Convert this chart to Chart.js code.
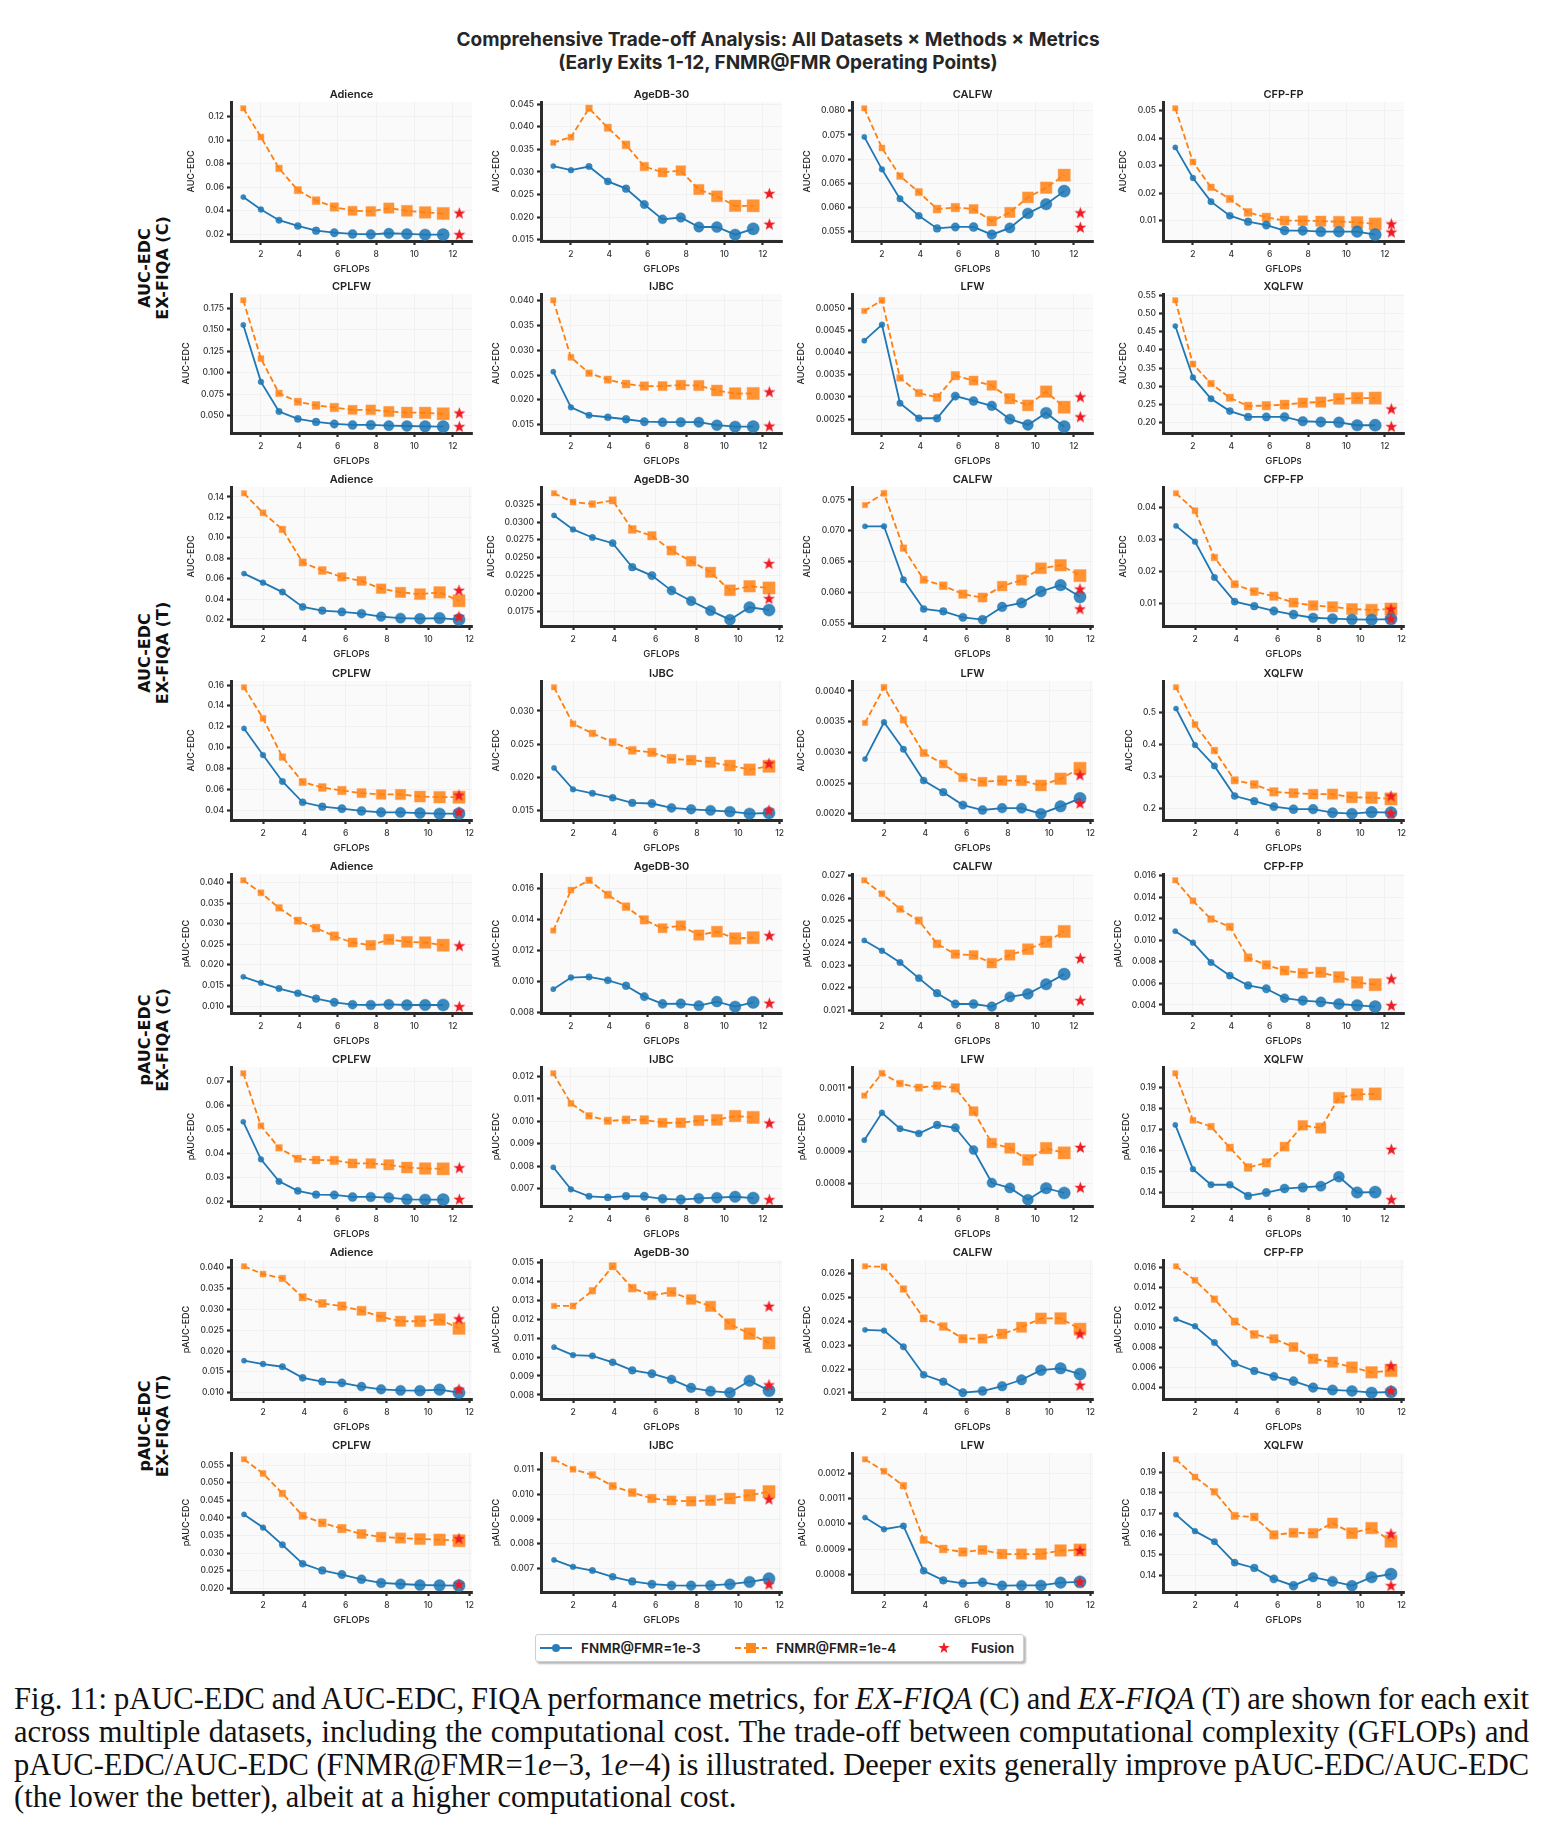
<!DOCTYPE html>
<html lang="en">
<head>
  <meta charset="UTF-8">
  <title>Comprehensive Trade-off Analysis</title>
  <script src="https://cdn.jsdelivr.net/npm/chart.js@4.4.0/dist/chart.umd.min.js"></script>
  <style>
    body {
      margin: 0;
      background: #fff;
    }

    #page {
      position: relative;
      width: 1543px;
      height: 1841px;
      overflow: hidden;
      font-family: 'Inter', sans-serif;
      color: #222;
    }

    .fig-title {
      position: absolute;
      left: 0;
      width: 1556px;
      top: 28px;
      text-align: center;
      font-weight: 700;
      font-size: 19px;
      line-height: 23px;
      color: #262626;
    }

    .group-label {
      position: absolute;
      font-family: 'DejaVu Sans', sans-serif;
      font-weight: bold;
      font-size: 16px;
      line-height: 18px;
      text-align: center;
      white-space: nowrap;
      transform: translate(-50%, -50%) rotate(-90deg);
      color: #111;
    }

    canvas.panel {
      position: absolute;
    }

    /* legend box */
    .legend {
      position: absolute;
      left: 535px;
      top: 1634px;
      width: 487px;
      height: 26px;
      border: 1px solid #cfcfcf;
      border-radius: 3px;
      background: #fff;
      box-shadow: 2px 2px 2px rgba(0, 0, 0, 0.28);
      font-family: 'Inter', sans-serif;
      font-weight: 600;
      font-size: 13.5px;
      color: #222;
    }

    .legend svg,
    .legend span {
      position: absolute;
    }

    .legend span {
      top: 4px;
      line-height: 18px;
    }

    .caption {
      position: absolute;
      left: 14px;
      width: 1515px;
      font-family: 'Liberation Serif', 'Times New Roman', serif;
      font-size: 30.5px;
      line-height: 33px;
      color: #111;
      white-space: nowrap;
    }

    .caption.j {
      text-align: justify;
      text-align-last: justify;
      word-spacing: -2.5px;
    }
  </style>
</head>
<body>
<div id="page">
  <div class="fig-title">Comprehensive Trade-off Analysis: All Datasets × Methods × Metrics<br>(Early Exits 1-12, FNMR@FMR Operating Points)</div>

  <div class="group-label" style="left:154px; top:268px;">AUC-EDC<br>EX-FIQA (C)</div>
  <div class="group-label" style="left:154px; top:653px;">AUC-EDC<br>EX-FIQA (T)</div>
  <div class="group-label" style="left:154px; top:1040px;">pAUC-EDC<br>EX-FIQA (C)</div>
  <div class="group-label" style="left:154px; top:1426px;">pAUC-EDC<br>EX-FIQA (T)</div>

  <div class="legend">
    <svg style="left:4px; top:7px" width="32" height="12">
      <line x1="0" y1="6" x2="32" y2="6" stroke="#1f77b4" stroke-width="2"/>
      <circle cx="16" cy="6" r="4" fill="#2a7db8"/>
    </svg>
    <span style="left:45px">FNMR@FMR=1e-3</span>
    <svg style="left:199px; top:7px" width="32" height="12">
      <line x1="0" y1="6" x2="32" y2="6" stroke="#ff7f0e" stroke-width="2" stroke-dasharray="6 3"/>
      <rect x="11" y="1" width="10" height="10" fill="#ff8a22"/>
    </svg>
    <span style="left:240px">FNMR@FMR=1e-4</span>
    <svg style="left:402px; top:7px" width="12" height="12">
      <polygon points="6,0 7.4,4.1 11.7,4.1 8.2,6.7 9.5,11 6,8.4 2.5,11 3.8,6.7 0.3,4.1 4.6,4.1" fill="#f01c24"/>
    </svg>
    <span style="left:435px">Fusion</span>
  </div>

  <div class="caption j" style="top:1683px;">Fig. 11: pAUC-EDC and AUC-EDC, FIQA performance metrics, for <i>EX-FIQA</i> (C) and <i>EX-FIQA</i> (T) are shown for each exit</div>
  <div class="caption j" style="top:1716px;">across multiple datasets, including the computational cost. The trade-off between computational complexity (GFLOPs) and</div>
  <div class="caption j" style="top:1749px;">pAUC-EDC/AUC-EDC (FNMR@FMR=1<i>e</i>−3, 1<i>e</i>−4) is illustrated. Deeper exits generally improve pAUC-EDC/AUC-EDC</div>
  <div class="caption" style="top:1781px;">(the lower the better), albeit at a higher computational cost.</div>
</div>

<script>
  // exits 1-12, GFLOPs
  const GFLOPS = [1.08, 2.0, 2.94, 3.92, 4.87, 5.82, 6.77, 7.72, 8.66, 9.6, 10.55, 11.49];
  const FUSION_X_C = 12.33;
  const FUSION_X_T = 11.49;

  const ROW_NAMES = [
    ['Adience', 'AgeDB-30', 'CALFW', 'CFP-FP'],
    ['CPLFW', 'IJBC', 'LFW', 'XQLFW']
  ];
  const Y_LABELS = ['AUC-EDC', 'AUC-EDC', 'AUC-EDC', 'AUC-EDC', 'pAUC-EDC', 'pAUC-EDC', 'pAUC-EDC', 'pAUC-EDC'];

  // y tick spacing per panel (rows 1-8, columns 1-4)
  const Y_STEPS = [
    [0.02, 0.005, 0.005, 0.01],
    [0.025, 0.005, 0.0005, 0.05],
    [0.02, 0.0025, 0.005, 0.01],
    [0.02, 0.005, 0.0005, 0.1],
    [0.005, 0.002, 0.001, 0.002],
    [0.01, 0.001, 0.0001, 0.01],
    [0.005, 0.001, 0.001, 0.002],
    [0.005, 0.001, 0.0001, 0.01]
  ];

  // ---- AUC-EDC, EX-FIQA (C) ----
  const aC_Adience_e3 = [0.0517, 0.0411, 0.0320, 0.0271, 0.0231, 0.0214, 0.0203, 0.0200, 0.0209, 0.0203, 0.0197, 0.0197];
  const aC_Adience_e4 = [0.127, 0.1026, 0.076, 0.0575, 0.0486, 0.0432, 0.0400, 0.0395, 0.0423, 0.0400, 0.0386, 0.0377];
  const aC_Adience_fus = [0.0380, 0.0197];
  const aC_AgeDB_e3 = [0.0313, 0.0304, 0.0312, 0.0279, 0.0263, 0.0228, 0.0195, 0.0199, 0.0178, 0.0178, 0.0161, 0.0174];
  const aC_AgeDB_e4 = [0.0365, 0.0377, 0.0441, 0.0398, 0.0360, 0.0312, 0.0299, 0.0303, 0.0261, 0.0246, 0.0225, 0.0225];
  const aC_AgeDB_fus = [0.0252, 0.0184];
  const aC_CALFW_e3 = [0.0746, 0.0679, 0.0618, 0.0583, 0.0557, 0.0560, 0.0560, 0.0544, 0.0558, 0.0588, 0.0607, 0.0634];
  const aC_CALFW_e4 = [0.0805, 0.0723, 0.0665, 0.0632, 0.0597, 0.0600, 0.0597, 0.0572, 0.0590, 0.0621, 0.0641, 0.0667];
  const aC_CALFW_fus = [0.0589, 0.0559];
  const aC_CFPFP_e3 = [0.0366, 0.0255, 0.0169, 0.0118, 0.0096, 0.0084, 0.0064, 0.0064, 0.0060, 0.0060, 0.0060, 0.0049];
  const aC_CFPFP_e4 = [0.0508, 0.0313, 0.0221, 0.0179, 0.0130, 0.0112, 0.0100, 0.0100, 0.0098, 0.0096, 0.0094, 0.0088];
  const aC_CFPFP_fus = [0.0088, 0.0058];
  const aC_CPLFW_e3 = [0.1557, 0.0893, 0.0547, 0.0461, 0.0425, 0.0402, 0.0390, 0.0390, 0.0382, 0.0378, 0.0374, 0.0370];
  const aC_CPLFW_e4 = [0.1844, 0.1164, 0.0759, 0.0661, 0.0618, 0.0594, 0.0567, 0.0567, 0.0547, 0.0535, 0.0531, 0.0520];
  const aC_CPLFW_fus = [0.0528, 0.0370];
  const aC_IJBC_e3 = [0.0257, 0.0185, 0.0169, 0.0165, 0.0161, 0.0156, 0.0155, 0.0155, 0.0155, 0.0149, 0.0146, 0.0146];
  const aC_IJBC_e4 = [0.0401, 0.0286, 0.0254, 0.0241, 0.0232, 0.0228, 0.0228, 0.0230, 0.0229, 0.0219, 0.0213, 0.0213];
  const aC_IJBC_fus = [0.0216, 0.0147];
  const aC_LFW_e3 = [0.00427, 0.00463, 0.00286, 0.00252, 0.00252, 0.00302, 0.00291, 0.00280, 0.00250, 0.00237, 0.00264, 0.00233];
  const aC_LFW_e4 = [0.00494, 0.00518, 0.00343, 0.00309, 0.00299, 0.00348, 0.00337, 0.00326, 0.00296, 0.00281, 0.00312, 0.00277];
  const aC_LFW_fus = [0.00300, 0.00255];
  const aC_XQLFW_e3 = [0.466, 0.324, 0.265, 0.231, 0.215, 0.215, 0.215, 0.203, 0.201, 0.200, 0.192, 0.192];
  const aC_XQLFW_e4 = [0.537, 0.361, 0.307, 0.268, 0.245, 0.246, 0.249, 0.254, 0.256, 0.265, 0.267, 0.267];
  const aC_XQLFW_fus = [0.237, 0.188];

  // ---- AUC-EDC, EX-FIQA (T) ----
  const aT_Adience_e3 = [0.0651, 0.0562, 0.0470, 0.0325, 0.0289, 0.0276, 0.0259, 0.0230, 0.0216, 0.0210, 0.0216, 0.0200];
  const aT_Adience_e4 = [0.1436, 0.1245, 0.1083, 0.0760, 0.0681, 0.0618, 0.0579, 0.0503, 0.0467, 0.0450, 0.0467, 0.0385];
  const aT_Adience_fus = [0.0487, 0.0230];
  const aT_AgeDB_e3 = [0.03094, 0.02897, 0.02784, 0.02704, 0.02366, 0.02248, 0.02037, 0.01891, 0.01755, 0.01628, 0.01802, 0.01764];
  const aT_AgeDB_e4 = [0.03405, 0.03282, 0.03254, 0.03306, 0.02897, 0.02808, 0.02601, 0.02450, 0.02295, 0.02041, 0.02098, 0.02074];
  const aT_AgeDB_fus = [0.02417, 0.01924];
  const aT_CALFW_e3 = [0.07072, 0.07072, 0.06204, 0.05729, 0.05691, 0.05593, 0.05555, 0.05762, 0.05828, 0.06013, 0.06117, 0.05926];
  const aT_CALFW_e4 = [0.07417, 0.07608, 0.06718, 0.06204, 0.06106, 0.05970, 0.05915, 0.06101, 0.06199, 0.06390, 0.06439, 0.06270];
  const aT_CALFW_fus = [0.06052, 0.05729];
  const aT_CFPFP_e3 = [0.0342, 0.0293, 0.0182, 0.0107, 0.0093, 0.0078, 0.0067, 0.0057, 0.0054, 0.0052, 0.0051, 0.0053];
  const aT_CFPFP_e4 = [0.0443, 0.0389, 0.0244, 0.0161, 0.0138, 0.0124, 0.0104, 0.0095, 0.0091, 0.0084, 0.0081, 0.0084];
  const aT_CFPFP_fus = [0.0084, 0.0054];
  const aT_CPLFW_e3 = [0.1184, 0.0929, 0.0677, 0.0477, 0.0435, 0.0416, 0.0394, 0.0381, 0.0381, 0.0374, 0.0368, 0.0368];
  const aT_CPLFW_e4 = [0.1578, 0.1281, 0.0910, 0.0671, 0.0619, 0.0590, 0.0565, 0.0552, 0.0552, 0.0532, 0.0526, 0.0526];
  const aT_CPLFW_fus = [0.0545, 0.0384];
  const aT_IJBC_e3 = [0.02143, 0.01821, 0.01760, 0.01694, 0.01617, 0.01607, 0.01541, 0.01520, 0.01505, 0.01485, 0.01454, 0.01464];
  const aT_IJBC_e4 = [0.03356, 0.02806, 0.02663, 0.02530, 0.02408, 0.02377, 0.02280, 0.02260, 0.02229, 0.02178, 0.02117, 0.02168];
  const aT_IJBC_fus = [0.02209, 0.01505];
  const aT_LFW_e3 = [0.00289, 0.00349, 0.00305, 0.00254, 0.00235, 0.00214, 0.00206, 0.00209, 0.00209, 0.00200, 0.00212, 0.00225];
  const aT_LFW_e4 = [0.00348, 0.00406, 0.00353, 0.00299, 0.00281, 0.00259, 0.00252, 0.00254, 0.00254, 0.00246, 0.00257, 0.00274];
  const aT_LFW_fus = [0.00263, 0.00217];
  const aT_XQLFW_e3 = [0.511, 0.397, 0.332, 0.238, 0.222, 0.205, 0.197, 0.197, 0.186, 0.183, 0.188, 0.186];
  const aT_XQLFW_e4 = [0.577, 0.461, 0.380, 0.287, 0.274, 0.251, 0.247, 0.244, 0.244, 0.234, 0.233, 0.229];
  const aT_XQLFW_fus = [0.238, 0.184];

  // ---- pAUC-EDC, EX-FIQA (C) ----
  const pC_Adience_e3 = [0.01711, 0.01564, 0.01425, 0.01310, 0.01180, 0.01090, 0.01033, 0.01025, 0.01041, 0.01025, 0.01025, 0.01025];
  const pC_Adience_e4 = [0.04056, 0.03753, 0.03386, 0.03075, 0.02895, 0.02700, 0.02544, 0.02479, 0.02618, 0.02560, 0.02544, 0.02479];
  const pC_Adience_fus = [0.02462, 0.00984];
  const pC_AgeDB_e3 = [0.00950, 0.01025, 0.01029, 0.01007, 0.00972, 0.00902, 0.00855, 0.00857, 0.00844, 0.00870, 0.00837, 0.00865];
  const pC_AgeDB_e4 = [0.01328, 0.01589, 0.01652, 0.01559, 0.01482, 0.01397, 0.01343, 0.01360, 0.01299, 0.01321, 0.01277, 0.01282];
  const pC_AgeDB_fus = [0.01295, 0.00859];
  const pC_CALFW_e3 = [0.02411, 0.02365, 0.02313, 0.02243, 0.02176, 0.02128, 0.02128, 0.02116, 0.02160, 0.02173, 0.02216, 0.02261];
  const pC_CALFW_e4 = [0.02679, 0.02619, 0.02551, 0.02500, 0.02396, 0.02350, 0.02346, 0.02310, 0.02346, 0.02372, 0.02405, 0.02451];
  const pC_CALFW_fus = [0.02331, 0.02143];
  const pC_CFPFP_e3 = [0.01084, 0.00978, 0.00794, 0.00672, 0.00581, 0.00550, 0.00463, 0.00441, 0.00428, 0.00409, 0.00397, 0.00384];
  const pC_CFPFP_e4 = [0.01556, 0.01366, 0.01197, 0.01125, 0.00838, 0.00772, 0.00719, 0.00694, 0.00703, 0.00659, 0.00609, 0.00588];
  const pC_CFPFP_fus = [0.00641, 0.00394];
  const pC_CPLFW_e3 = [0.05318, 0.03751, 0.02833, 0.02438, 0.02282, 0.02268, 0.02184, 0.02184, 0.02155, 0.02085, 0.02071, 0.02071];
  const pC_CPLFW_e4 = [0.07337, 0.05149, 0.04231, 0.03779, 0.03723, 0.03709, 0.03581, 0.03581, 0.03525, 0.03412, 0.03370, 0.03356];
  const pC_CPLFW_fus = [0.03398, 0.02085];
  const pC_IJBC_e3 = [0.00796, 0.00698, 0.00667, 0.00662, 0.00668, 0.00667, 0.00656, 0.00652, 0.00658, 0.00661, 0.00665, 0.00659];
  const pC_IJBC_e4 = [0.01214, 0.01080, 0.01025, 0.01003, 0.01007, 0.01007, 0.00994, 0.00994, 0.01004, 0.01007, 0.01024, 0.01018];
  const pC_IJBC_fus = [0.00992, 0.00652];
  const pC_LFW_e3 = [0.000936, 0.001022, 0.000972, 0.000957, 0.000984, 0.000975, 0.000905, 0.000802, 0.000786, 0.000749, 0.000785, 0.000770];
  const pC_LFW_e4 = [0.001076, 0.001146, 0.001114, 0.001101, 0.001107, 0.001100, 0.001027, 0.000927, 0.000911, 0.000874, 0.000911, 0.000896];
  const pC_LFW_fus = [0.000913, 0.000787];
  const pC_XQLFW_e3 = [0.1721, 0.1511, 0.1437, 0.1437, 0.1384, 0.1400, 0.1419, 0.1424, 0.1430, 0.1475, 0.1400, 0.1402];
  const pC_XQLFW_e4 = [0.1966, 0.1743, 0.1713, 0.1613, 0.1519, 0.1541, 0.1618, 0.1719, 0.1706, 0.1850, 0.1866, 0.1868];
  const pC_XQLFW_fus = [0.1605, 0.1366];

  // ---- pAUC-EDC, EX-FIQA (T) ----
  const pT_Adience_e3 = [0.01769, 0.01688, 0.01623, 0.01356, 0.01267, 0.01235, 0.01146, 0.01081, 0.01057, 0.01049, 0.01073, 0.01000];
  const pT_Adience_e4 = [0.04034, 0.03848, 0.03743, 0.03290, 0.03144, 0.03079, 0.02966, 0.02820, 0.02715, 0.02715, 0.02756, 0.02545];
  const pT_Adience_fus = [0.02772, 0.01081];
  const pT_AgeDB_e3 = [0.01052, 0.01010, 0.01006, 0.00972, 0.00930, 0.00912, 0.00882, 0.00837, 0.00820, 0.00812, 0.00875, 0.00823];
  const pT_AgeDB_e4 = [0.01269, 0.01269, 0.01349, 0.01478, 0.01363, 0.01324, 0.01343, 0.01303, 0.01267, 0.01173, 0.01123, 0.01074];
  const pT_AgeDB_fus = [0.01267, 0.00853];
  const pT_CALFW_e3 = [0.02364, 0.02361, 0.02293, 0.02176, 0.02147, 0.02101, 0.02108, 0.02128, 0.02155, 0.02195, 0.02203, 0.02179];
  const pT_CALFW_e4 = [0.02630, 0.02628, 0.02535, 0.02412, 0.02378, 0.02327, 0.02327, 0.02347, 0.02375, 0.02412, 0.02412, 0.02367];
  const pT_CALFW_fus = [0.02347, 0.02132];
  const pT_CFPFP_e3 = [0.01081, 0.01010, 0.00848, 0.00639, 0.00565, 0.00511, 0.00464, 0.00400, 0.00376, 0.00366, 0.00349, 0.00356];
  const pT_CFPFP_e4 = [0.01607, 0.01468, 0.01280, 0.01057, 0.00929, 0.00885, 0.00804, 0.00686, 0.00653, 0.00602, 0.00552, 0.00569];
  const pT_CFPFP_fus = [0.00616, 0.00370];
  const pT_CPLFW_e3 = [0.04102, 0.03728, 0.03238, 0.02701, 0.02509, 0.02394, 0.02259, 0.02154, 0.02125, 0.02096, 0.02086, 0.02077];
  const pT_CPLFW_e4 = [0.05667, 0.05264, 0.04698, 0.04064, 0.03862, 0.03699, 0.03546, 0.03459, 0.03430, 0.03402, 0.03382, 0.03354];
  const pT_CPLFW_fus = [0.03411, 0.02115];
  const pT_IJBC_e3 = [0.00735, 0.00707, 0.00692, 0.00667, 0.00648, 0.00637, 0.00632, 0.00631, 0.00632, 0.00637, 0.00646, 0.00659];
  const pT_IJBC_e4 = [0.01141, 0.01101, 0.01078, 0.01033, 0.01007, 0.00983, 0.00975, 0.00972, 0.00975, 0.00983, 0.00996, 0.01011];
  const pT_IJBC_fus = [0.00980, 0.00637];
  const pT_LFW_e3 = [0.001025, 0.000979, 0.000992, 0.000815, 0.000777, 0.000765, 0.000769, 0.000756, 0.000757, 0.000757, 0.000768, 0.000771];
  const pT_LFW_e4 = [0.001255, 0.001208, 0.001151, 0.000937, 0.000901, 0.000889, 0.000897, 0.000881, 0.000881, 0.000881, 0.000895, 0.000897];
  const pT_LFW_fus = [0.000895, 0.000771];
  const pT_XQLFW_e3 = [0.1694, 0.1614, 0.1563, 0.1461, 0.1435, 0.1382, 0.1349, 0.1390, 0.1370, 0.1349, 0.1390, 0.1405];
  const pT_XQLFW_e4 = [0.1963, 0.1877, 0.1805, 0.1688, 0.1683, 0.1596, 0.1606, 0.1604, 0.1653, 0.1604, 0.1629, 0.1565];
  const pT_XQLFW_fus = [0.1601, 0.1349];

  // panels row by row: [e3, e4, fusion]
  const ROWS = [
    [[aC_Adience_e3, aC_Adience_e4, aC_Adience_fus], [aC_AgeDB_e3, aC_AgeDB_e4, aC_AgeDB_fus], [aC_CALFW_e3, aC_CALFW_e4, aC_CALFW_fus], [aC_CFPFP_e3, aC_CFPFP_e4, aC_CFPFP_fus]],
    [[aC_CPLFW_e3, aC_CPLFW_e4, aC_CPLFW_fus], [aC_IJBC_e3, aC_IJBC_e4, aC_IJBC_fus], [aC_LFW_e3, aC_LFW_e4, aC_LFW_fus], [aC_XQLFW_e3, aC_XQLFW_e4, aC_XQLFW_fus]],
    [[aT_Adience_e3, aT_Adience_e4, aT_Adience_fus], [aT_AgeDB_e3, aT_AgeDB_e4, aT_AgeDB_fus], [aT_CALFW_e3, aT_CALFW_e4, aT_CALFW_fus], [aT_CFPFP_e3, aT_CFPFP_e4, aT_CFPFP_fus]],
    [[aT_CPLFW_e3, aT_CPLFW_e4, aT_CPLFW_fus], [aT_IJBC_e3, aT_IJBC_e4, aT_IJBC_fus], [aT_LFW_e3, aT_LFW_e4, aT_LFW_fus], [aT_XQLFW_e3, aT_XQLFW_e4, aT_XQLFW_fus]],
    [[pC_Adience_e3, pC_Adience_e4, pC_Adience_fus], [pC_AgeDB_e3, pC_AgeDB_e4, pC_AgeDB_fus], [pC_CALFW_e3, pC_CALFW_e4, pC_CALFW_fus], [pC_CFPFP_e3, pC_CFPFP_e4, pC_CFPFP_fus]],
    [[pC_CPLFW_e3, pC_CPLFW_e4, pC_CPLFW_fus], [pC_IJBC_e3, pC_IJBC_e4, pC_IJBC_fus], [pC_LFW_e3, pC_LFW_e4, pC_LFW_fus], [pC_XQLFW_e3, pC_XQLFW_e4, pC_XQLFW_fus]],
    [[pT_Adience_e3, pT_Adience_e4, pT_Adience_fus], [pT_AgeDB_e3, pT_AgeDB_e4, pT_AgeDB_fus], [pT_CALFW_e3, pT_CALFW_e4, pT_CALFW_fus], [pT_CFPFP_e3, pT_CFPFP_e4, pT_CFPFP_fus]],
    [[pT_CPLFW_e3, pT_CPLFW_e4, pT_CPLFW_fus], [pT_IJBC_e3, pT_IJBC_e4, pT_IJBC_fus], [pT_LFW_e3, pT_LFW_e4, pT_LFW_fus], [pT_XQLFW_e3, pT_XQLFW_e4, pT_XQLFW_fus]]
  ];

  // layout of the grid (axes corners on the page)
  const AX_LEFT = [231, 541, 852, 1163];
  const AX_TOP = [102, 294, 487, 681, 874, 1067, 1260, 1453];
  const PAD_L = 70, PAD_T = 22, PAD_R = 10, PAD_B = 42;
  const AX_W = 241, AX_H = 139;
  const TICK_FONT = '500 8.5px Inter';

  // red filled star used as point style
  const star = document.createElement('canvas');
  star.width = 13;
  star.height = 13;
  (function () {
    const c = star.getContext('2d');
    c.beginPath();
    for (let k = 0; k < 10; k++) {
      const r = k % 2 === 0 ? 6.3 : 2.6;
      const a = -Math.PI / 2 + k * Math.PI / 5;
      c.lineTo(6.5 + r * Math.cos(a), 6.8 + r * Math.sin(a));
    }
    c.closePath();
    c.fillStyle = '#f01c24';
    c.fill();
  })();

  // used only to measure tick label widths, so the y title sits left of them
  const measure = document.createElement('canvas').getContext('2d');
  measure.font = TICK_FONT;

  const plotBg = {
    id: 'plotBg',
    beforeDraw(chart) {
      const a = chart.chartArea, c = chart.ctx;
      c.save();
      c.fillStyle = '#fafafa';
      c.fillRect(a.left, a.top, a.right - a.left, a.bottom - a.top);
      c.restore();
    }
  };

  function decimals(step) {
    const s = String(step);
    return s.includes('.') ? s.split('.')[1].length : 0;
  }

  const page = document.getElementById('page');

  ROWS.forEach((row, r) => {
    const isT = (r === 2 || r === 3 || r === 6 || r === 7);
    const fx = isT ? FUSION_X_T : FUSION_X_C;
    row.forEach((panel, col) => {
      const [e3, e4, fus] = panel;
      const name = ROW_NAMES[r % 2][col];
      const step = Y_STEPS[r][col];
      const dec = decimals(step);

      const all = e3.concat(e4, fus);
      const lo = Math.min(...all), hi = Math.max(...all);
      const m = (hi - lo) * 0.05;
      const ymin = lo - m, ymax = hi + m;

      // widest tick label
      let labW = 0;
      for (let k = Math.ceil(ymin / step); k * step <= ymax; k++) {
        labW = Math.max(labW, measure.measureText((k * step).toFixed(dec)).width);
      }

      const cv = document.createElement('canvas');
      cv.className = 'panel';
      cv.width = PAD_L + AX_W + PAD_R;
      cv.height = PAD_T + AX_H + PAD_B;
      cv.style.left = (AX_LEFT[col] - PAD_L) + 'px';
      cv.style.top = (AX_TOP[r] - PAD_T) + 'px';
      page.appendChild(cv);

      new Chart(cv.getContext('2d'), {
        type: 'line',
        data: {
          datasets: [
            {
              label: 'Fusion',
              data: fus.map(v => ({x: fx, y: v})),
              showLine: false,
              pointStyle: star,
              pointRadius: 6,
              order: 0,
              clip: false
            },
            {
              label: 'FNMR@FMR=1e-3',
              data: GFLOPS.map((x, i) => ({x: x, y: e3[i]})),
              borderColor: '#1f77b4',
              borderWidth: 1.8,
              pointStyle: 'circle',
              pointRadius: ctx => 2.6 + ctx.dataIndex * 0.32,
              pointBackgroundColor: 'rgba(31, 119, 180, 0.88)',
              pointBorderColor: 'rgba(31, 119, 180, 0.5)',
              pointBorderWidth: 0.8,
              order: 1,
              clip: false
            },
            {
              label: 'FNMR@FMR=1e-4',
              data: GFLOPS.map((x, i) => ({x: x, y: e4[i]})),
              borderColor: '#ff7f0e',
              borderWidth: 1.8,
              borderDash: [6, 3],
              pointStyle: 'rect',
              pointRadius: ctx => 3.8 + ctx.dataIndex * 0.44,
              pointBackgroundColor: 'rgba(255, 127, 14, 0.85)',
              pointBorderColor: 'rgba(255, 160, 90, 0.6)',
              pointBorderWidth: 0.8,
              order: 2,
              clip: false
            }
          ]
        },
        options: {
          responsive: false,
          animation: false,
          events: [],
          layout: {padding: {top: 7.8, right: PAD_R, bottom: 0, left: 0}},
          plugins: {
            legend: {display: false},
            tooltip: {enabled: false},
            title: {
              display: true,
              text: name,
              fullSize: false,
              color: '#222',
              font: {family: 'Inter', size: 11, weight: '600', lineHeight: 1.2},
              padding: {top: 0, bottom: 1}
            }
          },
          scales: {
            x: {
              type: 'linear',
              min: isT ? 0.45 : 0.44,
              max: isT ? 12.12 : 12.99,
              afterFit: s => { s.height = PAD_B; },
              border: {display: true, color: '#2b2b2b', width: 3},
              grid: {color: '#ececec', lineWidth: 0.7, tickColor: '#2b2b2b', tickWidth: 2.2, tickLength: 4},
              ticks: {
                stepSize: 2,
                includeBounds: false,
                maxRotation: 0,
                padding: 4,
                color: '#333',
                font: {family: 'Inter', size: 8.5, weight: '500'}
              },
              title: {
                display: true,
                text: 'GFLOPs',
                color: '#222',
                font: {family: 'Inter', size: 9.5, weight: '500', lineHeight: 1.2},
                padding: {top: 0, bottom: 8.3}
              }
            },
            y: {
              type: 'linear',
              min: ymin,
              max: ymax,
              afterFit: s => { s.width = PAD_L; },
              border: {display: true, color: '#2b2b2b', width: 3},
              grid: {color: '#ececec', lineWidth: 0.7, tickColor: '#2b2b2b', tickWidth: 2.2, tickLength: 4},
              ticks: {
                stepSize: step,
                includeBounds: false,
                padding: 3,
                color: '#333',
                font: {family: 'Inter', size: 8.5, weight: '500'},
                callback: v => v.toFixed(dec)
              },
              title: {
                display: true,
                text: Y_LABELS[r],
                color: '#222',
                font: {family: 'Inter', size: 9, weight: '500', lineHeight: 1.2},
                padding: {top: Math.max(0, 44 - labW), bottom: 0}
              }
            }
          }
        },
        plugins: [plotBg]
      });
    });
  });
</script>
</body>
</html>
